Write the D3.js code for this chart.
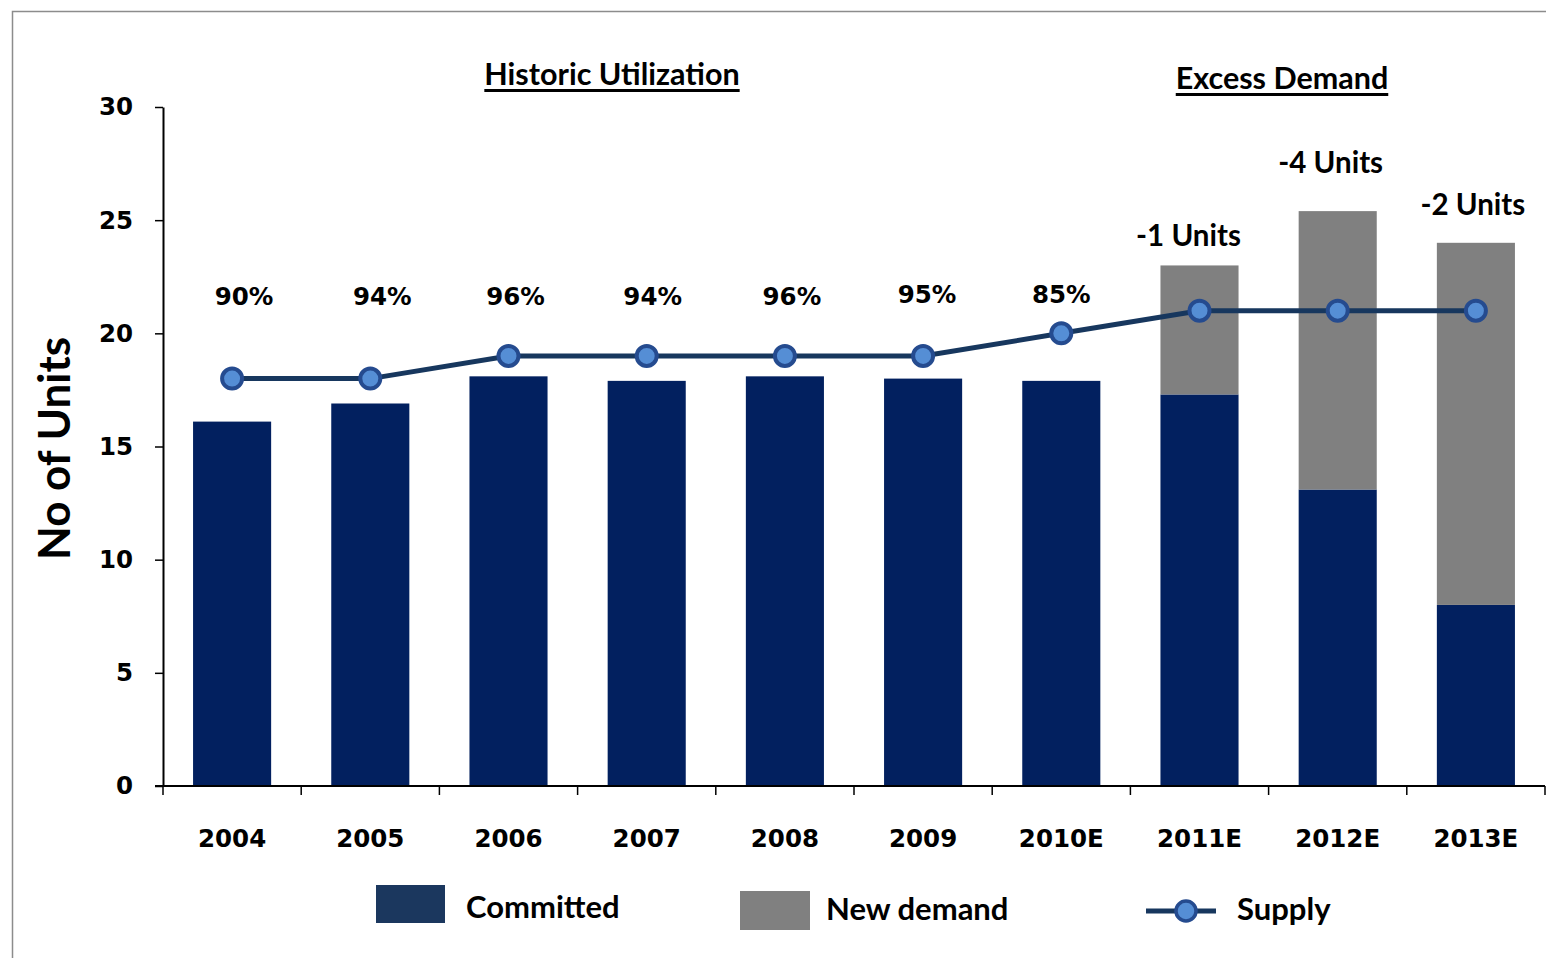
<!DOCTYPE html>
<html>
<head>
<meta charset="utf-8">
<script src="https://cdn.jsdelivr.net/npm/d3@7"></script>
<style>
  html, body { margin: 0; padding: 0; background: #fff; }
  svg { display: block; }
</style>
</head>
<body>
<svg id="chart" width="1546" height="958"></svg>
<script>
// Units per year: committed demand, new demand, available supply
const years = ["2004", "2005", "2006", "2007", "2008", "2009", "2010E", "2011E", "2012E", "2013E"];
const committed = [16.1, 16.9, 18.1, 17.9, 18.1, 18.0, 17.9, 17.3, 13.1, 8.0];
const newDemand = [0, 0, 0, 0, 0, 0, 0, 5.7, 12.3, 16.0];
const supply = [18, 18, 19, 19, 19, 19, 20, 21, 21, 21];
const utilization = ["90%", "94%", "96%", "94%", "96%", "95%", "85%"];
const excessYears = ["2011E", "2012E", "2013E"];
const excessLabels = ["-1 Units", "-4 Units", "-2 Units"];
const yTicks = [0, 5, 10, 15, 20, 25, 30];

const svg = d3.select("#chart");
const calibriLike = "Lato, 'Open Sans', sans-serif";
const tickFont = "'DejaVu Sans', Verdana, sans-serif";

// outer frame
svg.append("rect")
  .attr("x", 12.5).attr("y", 11.5)
  .attr("width", 1600).attr("height", 1000)
  .attr("fill", "none").attr("stroke", "#8c8c8c").attr("stroke-width", 1.5);

const x = d3.scaleBand()
  .domain(years)
  .range([163, 1545])
  .paddingInner(0.435)
  .paddingOuter(0.2175);

const y = d3.scaleLinear().domain([0, 30]).range([786, 107]);

// stacked bars
const rows = years.map((yr, i) => ({ year: yr, committed: committed[i], newDemand: newDemand[i] }));
const stack = d3.stack().keys(["committed", "newDemand"])(rows);
const colors = { committed: "#02205f", newDemand: "#808080" };

svg.append("g").selectAll("g")
  .data(stack)
  .join("g")
  .attr("fill", d => colors[d.key])
  .selectAll("rect")
  .data(d => d.filter(s => s[1] - s[0] > 0))
  .join("rect")
  .attr("x", d => x(d.data.year))
  .attr("y", d => y(d[1]))
  .attr("width", x.bandwidth())
  .attr("height", d => y(d[0]) - y(d[1]));

// y axis
const yAxis = svg.append("g")
  .attr("transform", "translate(163,0)")
  .call(d3.axisLeft(y).tickValues(yTicks).tickSize(8).tickPadding(22).tickSizeOuter(0));
yAxis.select(".domain").attr("stroke", "#000").attr("stroke-width", 2);
yAxis.selectAll(".tick line").attr("stroke", "#000").attr("stroke-width", 1.5);
yAxis.selectAll(".tick text")
  .attr("font-family", tickFont).attr("font-weight", "bold")
  .attr("font-size", 24.5).attr("fill", "#000");

// x axis: baseline, boundary ticks and year labels
const step = x.step();
const boundaries = years.map(yr => x(yr) - step * x.paddingInner() / 2).concat([x.range()[1]]);
const xg = svg.append("g");
xg.append("line")
  .attr("x1", 155).attr("x2", x.range()[1])
  .attr("y1", y(0)).attr("y2", y(0))
  .attr("stroke", "#000").attr("stroke-width", 2);
xg.selectAll("line.b")
  .data(boundaries)
  .join("line").attr("class", "b")
  .attr("x1", d => d).attr("x2", d => d)
  .attr("y1", y(0)).attr("y2", y(0) + 9)
  .attr("stroke", "#000").attr("stroke-width", 1.5);
xg.selectAll("text")
  .data(years)
  .join("text")
  .attr("x", d => x(d) + x.bandwidth() / 2)
  .attr("y", y(0) + 61)
  .attr("text-anchor", "middle")
  .attr("font-family", tickFont).attr("font-weight", "bold")
  .attr("font-size", 24.5).attr("fill", "#000")
  .text(d => d);

// y axis title
svg.append("text")
  .attr("transform", `translate(70,${y(15) + 2}) rotate(-90)`)
  .attr("text-anchor", "middle")
  .attr("font-family", calibriLike).attr("font-weight", "bold")
  .attr("font-size", 44).attr("fill", "#000")
  .text("No of Units");

// supply line with markers
const cx = yr => x(yr) + x.bandwidth() / 2;
const line = d3.line().x((d, i) => cx(years[i])).y(d => y(d));
svg.append("path")
  .datum(supply)
  .attr("d", line)
  .attr("fill", "none").attr("stroke", "#17375e").attr("stroke-width", 5);
svg.append("g").selectAll("circle")
  .data(supply)
  .join("circle")
  .attr("cx", (d, i) => cx(years[i]))
  .attr("cy", d => y(d))
  .attr("r", 10)
  .attr("fill", "#558ed5").attr("stroke", "#254b8f").attr("stroke-width", 4);

// utilization labels over historic years
const utilShift = [12, 12, 7, 6, 7, 4, 0];
svg.append("g").selectAll("text")
  .data(utilization)
  .join("text")
  .attr("x", (d, i) => cx(years[i]) + utilShift[i])
  .attr("y", (d, i) => i >= 5 ? 303 : 305)
  .attr("text-anchor", "middle")
  .attr("font-family", tickFont).attr("font-weight", "bold")
  .attr("font-size", 24.5).attr("fill", "#000")
  .text(d => d);

// excess demand labels above forecast bars
const excessGap = [19, 38, 28];
svg.append("g").selectAll("text")
  .data(excessLabels)
  .join("text")
  .attr("x", (d, i) => cx(excessYears[i]) - 11 + i * 4)
  .attr("y", (d, i) => {
    const k = years.indexOf(excessYears[i]);
    return y(committed[k] + newDemand[k]) - excessGap[i];
  })
  .attr("text-anchor", "middle")
  .attr("font-family", calibriLike).attr("font-weight", "bold")
  .attr("font-size", 29.5).attr("fill", "#000")
  .text(d => d);

// section headers
function header(text, xc, yb) {
  const t = svg.append("text")
    .attr("x", xc).attr("y", yb)
    .attr("text-anchor", "middle")
    .attr("font-family", calibriLike).attr("font-weight", "bold")
    .attr("font-size", 30.5).attr("fill", "#000")
    .text(text);
  const bb = t.node().getBBox();
  svg.append("line")
    .attr("x1", bb.x).attr("x2", bb.x + bb.width)
    .attr("y1", yb + 5.5).attr("y2", yb + 5.5)
    .attr("stroke", "#000").attr("stroke-width", 3);
}
header("Historic Utilization", 612, 85);
header("Excess Demand", 1282, 89);

// legend
const lg = svg.append("g");
const legendFont = 31;
lg.append("rect").attr("x", 376).attr("y", 885).attr("width", 69).attr("height", 38).attr("fill", "#1b375e");
lg.append("text").attr("x", 466).attr("y", 918)
  .attr("font-family", calibriLike).attr("font-weight", "bold").attr("font-size", legendFont).text("Committed");
lg.append("rect").attr("x", 740).attr("y", 891).attr("width", 70).attr("height", 39).attr("fill", "#808080");
lg.append("text").attr("x", 826).attr("y", 920)
  .attr("font-family", calibriLike).attr("font-weight", "bold").attr("font-size", legendFont).text("New demand");
lg.append("line").attr("x1", 1146).attr("x2", 1216).attr("y1", 911).attr("y2", 911)
  .attr("stroke", "#17375e").attr("stroke-width", 5);
lg.append("circle").attr("cx", 1186).attr("cy", 911).attr("r", 10)
  .attr("fill", "#558ed5").attr("stroke", "#254b8f").attr("stroke-width", 3.5);
lg.append("text").attr("x", 1237).attr("y", 920)
  .attr("font-family", calibriLike).attr("font-weight", "bold").attr("font-size", legendFont).text("Supply");
</script>
</body>
</html>
